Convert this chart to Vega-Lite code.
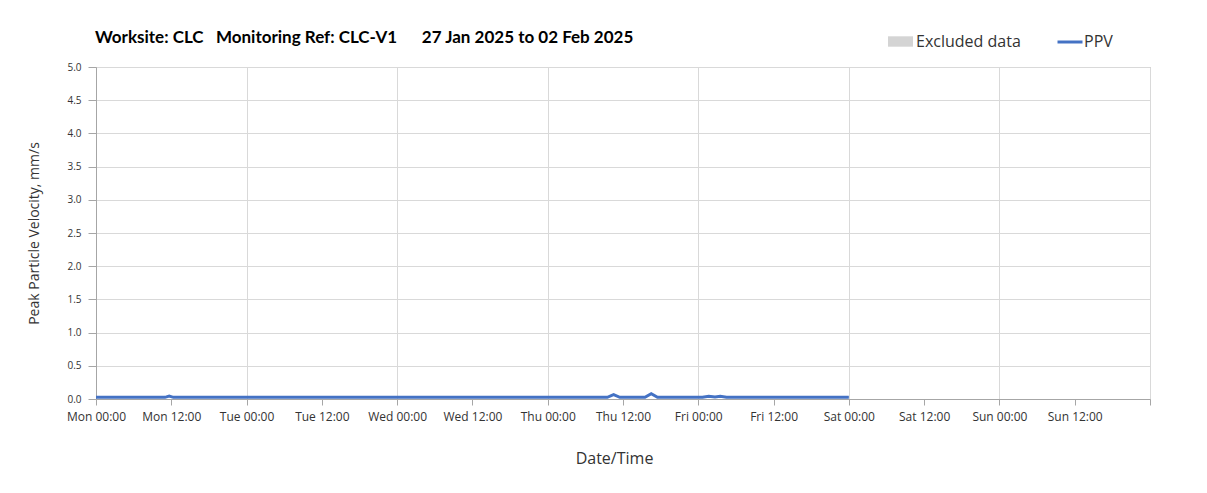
{
  "$schema": "https://vega.github.io/schema/vega-lite/v6.json",
  "autosize": "none",
  "width": 1054,
  "height": 332,
  "padding": {"left": 96, "top": 67, "right": 57, "bottom": 94},
  "background": "white",
  "title": {
    "text": "Worksite: CLC\u00a0\u00a0 Monitoring Ref: CLC-V1\u00a0\u00a0\u00a0\u00a0\u00a0 27 Jan 2025 to 02 Feb 2025",
    "anchor": "start",
    "frame": "group",
    "font": "Lato",
    "fontSize": 17,
    "fontWeight": "bold",
    "color": "#000000",
    "baseline": "alphabetic",
    "offset": 23,
    "dy": 55,
    "dx": -1
  },
  "config": {
    "view": {"stroke": "#b4b4b4", "strokeWidth": 1},
    "font": "Lato"
  },
  "layer": [
    {
      "data": {"values": []},
      "mark": {"type": "rect"},
      "encoding": {
        "x": {"field": "start", "type": "temporal"},
        "x2": {"field": "end"},
        "fill": {
          "datum": "Excluded data",
          "type": "nominal",
          "scale": {"domain": ["Excluded data"], "range": ["#d4d4d4"]},
          "legend": {
            "title": null,
            "orient": "none",
            "legendX": 794,
            "legendY": -36,
            "padding": 0,
            "symbolType": "M-1.2,-0.5H1.2V0.5H-1.2Z",
            "symbolSize": 433,
            "symbolStrokeWidth": 0,
            "labelFont": "Open Sans",
            "labelFontSize": 16,
            "labelColor": "#333333",
            "labelOffset": 5
          }
        }
      }
    },
    {
      "data": {
        "values": [
          {"t": "2025-01-27T00:00:00Z", "ppv": 0.025},
          {"t": "2025-01-27T11:00:00Z", "ppv": 0.025},
          {"t": "2025-01-27T11:40:00Z", "ppv": 0.045},
          {"t": "2025-01-27T12:20:00Z", "ppv": 0.025},
          {"t": "2025-01-30T09:30:00Z", "ppv": 0.025},
          {"t": "2025-01-30T10:30:00Z", "ppv": 0.065},
          {"t": "2025-01-30T11:30:00Z", "ppv": 0.025},
          {"t": "2025-01-30T15:30:00Z", "ppv": 0.025},
          {"t": "2025-01-30T16:30:00Z", "ppv": 0.08},
          {"t": "2025-01-30T17:30:00Z", "ppv": 0.025},
          {"t": "2025-01-31T00:40:00Z", "ppv": 0.025},
          {"t": "2025-01-31T01:40:00Z", "ppv": 0.04},
          {"t": "2025-01-31T02:40:00Z", "ppv": 0.03},
          {"t": "2025-01-31T03:30:00Z", "ppv": 0.04},
          {"t": "2025-01-31T04:30:00Z", "ppv": 0.025},
          {"t": "2025-02-01T00:00:00Z", "ppv": 0.025}
        ]
      },
      "mark": {"type": "line", "strokeWidth": 3, "interpolate": "linear"},
      "encoding": {
        "x": {
          "field": "t",
          "type": "temporal",
          "title": "Date/Time",
          "scale": {
            "type": "utc",
            "domain": [
              {"year": 2025, "month": 1, "date": 27, "hours": 0, "utc": true},
              {"year": 2025, "month": 2, "date": 3, "hours": 0, "utc": true}
            ]
          },
          "axis": {
            "format": "%a %H:%M",
            "values": [
              {"year": 2025, "month": 1, "date": 27, "hours": 0, "utc": true},
              {"year": 2025, "month": 1, "date": 27, "hours": 12, "utc": true},
              {"year": 2025, "month": 1, "date": 28, "hours": 0, "utc": true},
              {"year": 2025, "month": 1, "date": 28, "hours": 12, "utc": true},
              {"year": 2025, "month": 1, "date": 29, "hours": 0, "utc": true},
              {"year": 2025, "month": 1, "date": 29, "hours": 12, "utc": true},
              {"year": 2025, "month": 1, "date": 30, "hours": 0, "utc": true},
              {"year": 2025, "month": 1, "date": 30, "hours": 12, "utc": true},
              {"year": 2025, "month": 1, "date": 31, "hours": 0, "utc": true},
              {"year": 2025, "month": 1, "date": 31, "hours": 12, "utc": true},
              {"year": 2025, "month": 2, "date": 1, "hours": 0, "utc": true},
              {"year": 2025, "month": 2, "date": 1, "hours": 12, "utc": true},
              {"year": 2025, "month": 2, "date": 2, "hours": 0, "utc": true},
              {"year": 2025, "month": 2, "date": 2, "hours": 12, "utc": true},
              {"year": 2025, "month": 2, "date": 3, "hours": 0, "utc": true}
            ],
            "labelExpr": "datum.value >= 1738540800000 ? '' : datum.label",
            "labelFont": "Open Sans",
            "labelFontSize": 12,
            "labelColor": "#333333",
            "labelPadding": 6,
            "labelFlush": false,
            "labelOverlap": false,
            "tickColor": "#a6a6a6",
            "tickSize": 6,
            "domainColor": "#a6a6a6",
            "grid": true,
            "gridColor": "#d9d9d9",
            "gridOpacity": {"condition": {"test": "utchours(datum.value) == 0", "value": 1}, "value": 0},
            "titleFont": "Open Sans",
            "titleFontSize": 16,
            "titleFontWeight": "normal",
            "titleColor": "#333333",
            "titlePadding": 28,
            "titleX": 518
          }
        },
        "y": {
          "field": "ppv",
          "type": "quantitative",
          "title": "Peak Particle Velocity, mm/s",
          "scale": {"domain": [0, 5], "nice": false},
          "axis": {
            "values": [0, 0.5, 1, 1.5, 2, 2.5, 3, 3.5, 4, 4.5, 5],
            "format": ".1f",
            "labelFont": "Open Sans",
            "labelFontSize": 10,
            "labelColor": "#333333",
            "labelPadding": 7,
            "tickColor": "#a6a6a6",
            "tickSize": 8,
            "domainColor": "#a6a6a6",
            "gridColor": "#d9d9d9",
            "titleFont": "Open Sans",
            "titleFontSize": 14,
            "titleFontWeight": "normal",
            "titleColor": "#333333",
            "titlePadding": 25
          }
        },
        "color": {
          "datum": "PPV",
          "type": "nominal",
          "scale": {"domain": ["PPV"], "range": ["#4472C4"]},
          "legend": {
            "title": null,
            "orient": "none",
            "legendX": 960,
            "legendY": -39,
            "padding": 0,
            "symbolType": "stroke",
            "symbolSize": 625,
            "symbolStrokeWidth": 3,
            "labelFont": "Open Sans",
            "labelFontSize": 16,
            "labelColor": "#333333",
            "labelOffset": 0
          }
        }
      }
    }
  ]
}
